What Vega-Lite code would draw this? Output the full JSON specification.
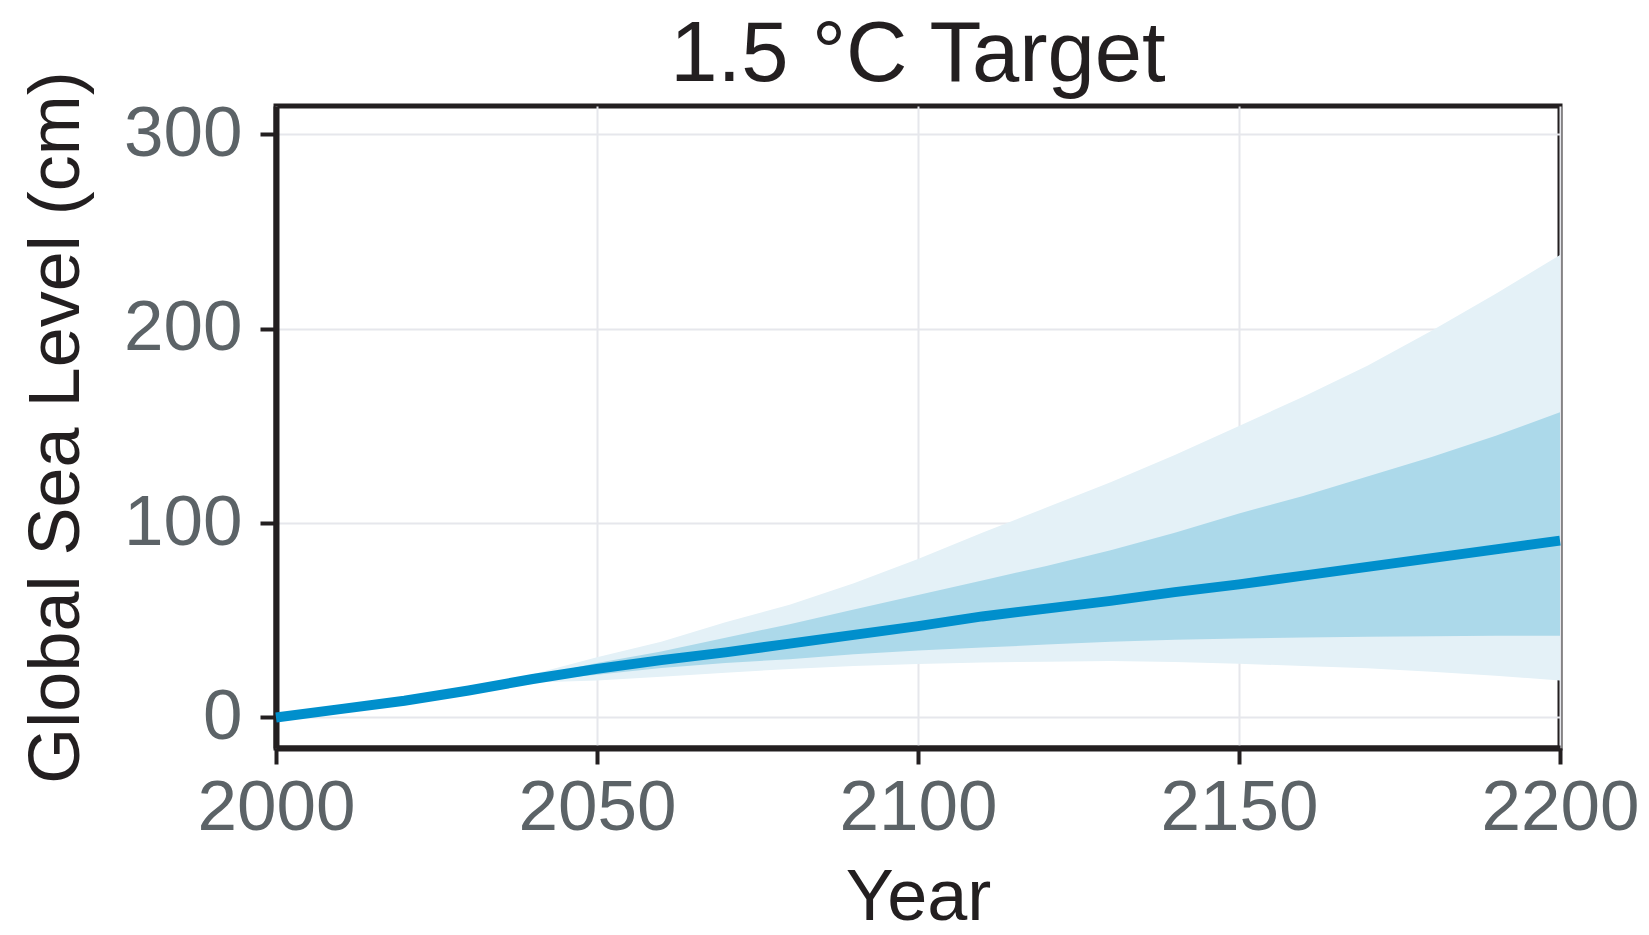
{
  "$schema": "https://vega.github.io/schema/vega-lite/v6.json",
  "width": 1284,
  "height": 642,
  "autosize": {"type": "none"},
  "padding": {"left": 276, "top": 106, "right": 89, "bottom": 187},
  "background": "white",
  "title": {
    "text": "1.5 °C Target",
    "font": "Liberation Sans",
    "fontSize": 85,
    "fontWeight": "normal",
    "color": "#231F20",
    "anchor": "middle",
    "baseline": "alphabetic",
    "offset": -95
  },
  "config": {
    "view": {"stroke": "#231F20", "strokeWidth": 5},
    "axis": {
      "labelFont": "Liberation Sans",
      "titleFont": "Liberation Sans",
      "labelFontSize": 71,
      "titleFontSize": 72,
      "titleFontWeight": "normal",
      "labelColor": "#5C6367",
      "titleColor": "#231F20",
      "domainColor": "#231F20",
      "domainWidth": 6,
      "tickColor": "#231F20",
      "tickWidth": 4,
      "tickSize": 16,
      "gridColor": "#E6E7EC",
      "gridWidth": 2
    }
  },
  "data": {
    "values": [
      {"year": 2000, "median": 0, "d_lo": 0, "d_hi": 0, "l_lo": 0, "l_hi": 0},
      {"year": 2010, "median": 4.3, "d_lo": 4.3, "d_hi": 4.3, "l_lo": 4.3, "l_hi": 4.3},
      {"year": 2020, "median": 8.6, "d_lo": 8.5, "d_hi": 8.7, "l_lo": 8.4, "l_hi": 8.8},
      {"year": 2030, "median": 13.9, "d_lo": 13.5, "d_hi": 14.4, "l_lo": 13, "l_hi": 15},
      {"year": 2040, "median": 19.8, "d_lo": 19, "d_hi": 21, "l_lo": 18, "l_hi": 22.3},
      {"year": 2050, "median": 25, "d_lo": 22, "d_hi": 28, "l_lo": 19, "l_hi": 31},
      {"year": 2060, "median": 29.5, "d_lo": 25.5, "d_hi": 34, "l_lo": 21, "l_hi": 39},
      {"year": 2070, "median": 33.5, "d_lo": 28, "d_hi": 41, "l_lo": 23, "l_hi": 49},
      {"year": 2080, "median": 38, "d_lo": 30, "d_hi": 48, "l_lo": 25, "l_hi": 58},
      {"year": 2090, "median": 42.5, "d_lo": 32.5, "d_hi": 55.5, "l_lo": 26.5, "l_hi": 69},
      {"year": 2100, "median": 47, "d_lo": 34.5, "d_hi": 63, "l_lo": 27.5, "l_hi": 81.5},
      {"year": 2110, "median": 52, "d_lo": 36, "d_hi": 70.5, "l_lo": 28.3, "l_hi": 95},
      {"year": 2120, "median": 56, "d_lo": 37.5, "d_hi": 78, "l_lo": 28.7, "l_hi": 108},
      {"year": 2130, "median": 60, "d_lo": 39, "d_hi": 86, "l_lo": 29, "l_hi": 121},
      {"year": 2140, "median": 64.5, "d_lo": 40, "d_hi": 95, "l_lo": 28.5, "l_hi": 135},
      {"year": 2150, "median": 68.5, "d_lo": 40.6, "d_hi": 105, "l_lo": 27.6, "l_hi": 150},
      {"year": 2160, "median": 73, "d_lo": 41.2, "d_hi": 114, "l_lo": 26.5, "l_hi": 165},
      {"year": 2170, "median": 77.5, "d_lo": 41.6, "d_hi": 124, "l_lo": 25.3, "l_hi": 181},
      {"year": 2180, "median": 82, "d_lo": 41.8, "d_hi": 134, "l_lo": 23.5, "l_hi": 199},
      {"year": 2190, "median": 86.5, "d_lo": 42, "d_hi": 145, "l_lo": 21.5, "l_hi": 218},
      {"year": 2200, "median": 91, "d_lo": 42, "d_hi": 157, "l_lo": 19, "l_hi": 238}
    ]
  },
  "encoding": {
    "x": {
      "field": "year",
      "type": "quantitative",
      "scale": {"domain": [2000, 2200], "nice": false, "zero": false},
      "axis": {
        "title": "Year",
        "values": [2000, 2050, 2100, 2150, 2200],
        "format": "d",
        "labelPadding": 9,
        "titlePadding": 19,
        "labelFlush": false
      }
    }
  },
  "layer": [
    {
      "mark": {"type": "area", "color": "#E4F1F7", "opacity": 1},
      "encoding": {
        "y": {
          "field": "l_lo",
          "type": "quantitative",
          "scale": {"domain": [-15.7, 314.6], "nice": false, "zero": false},
          "axis": {
            "title": "Global Sea Level (cm)",
            "values": [0, 100, 200, 300],
            "labelPadding": 18,
            "titlePadding": 30,
            "labelFlush": false
          }
        },
        "y2": {"field": "l_hi"}
      }
    },
    {
      "mark": {"type": "area", "color": "#ACD9EA", "opacity": 1},
      "encoding": {
        "y": {"field": "d_lo", "type": "quantitative"},
        "y2": {"field": "d_hi"}
      }
    },
    {
      "mark": {"type": "line", "color": "#008FCC", "strokeWidth": 10},
      "encoding": {
        "y": {"field": "median", "type": "quantitative"}
      }
    }
  ]
}
